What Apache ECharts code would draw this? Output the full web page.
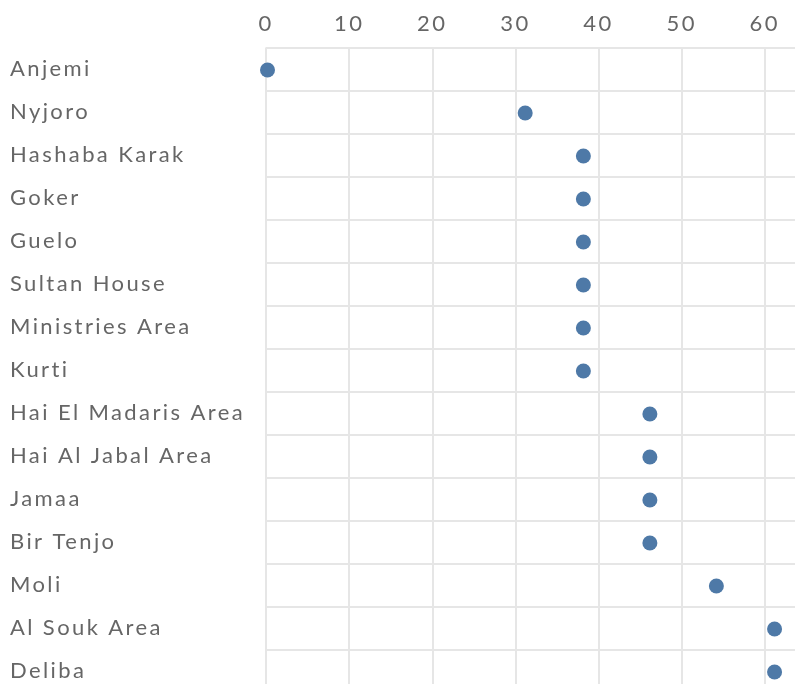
<!DOCTYPE html>
<html>
<head>
<meta charset="utf-8">
<script src="https://cdn.jsdelivr.net/npm/echarts@6/dist/echarts.min.js"></script>
<style>
  html, body { margin: 0; padding: 0; background: #fff; }
  #main { width: 795px; height: 684px; }
</style>
</head>
<body>
<div id="main"></div>
<script>
const places = ['Anjemi', 'Nyjoro', 'Hashaba Karak', 'Goker', 'Guelo', 'Sultan House',
  'Ministries Area', 'Kurti', 'Hai El Madaris Area', 'Hai Al Jabal Area', 'Jamaa',
  'Bir Tenjo', 'Moli', 'Al Souk Area', 'Deliba'];
const counts = [0, 31, 38, 38, 38, 38, 38, 38, 46, 46, 46, 46, 54, 61, 61];

// the labels in the original are tracked out a bit, echarts has no option for that
const _fillText = CanvasRenderingContext2D.prototype.fillText;
CanvasRenderingContext2D.prototype.fillText = function () {
  this.letterSpacing = '2.4px';
  return _fillText.apply(this, arguments);
};

const chart = echarts.init(document.getElementById('main'));

// grid line style shared by both axes
const gridLine = { show: true, lineStyle: { color: '#e6e6e6', width: 2 } };

chart.setOption({
  animation: false,
  grid: { left: 266, right: -3, top: 47.5, height: 645, outerBoundsMode: 'none' },
  xAxis: {
    type: 'value',
    position: 'top',
    min: 0,
    max: 64,
    interval: 10,
    axisLine: { show: false },
    axisTick: { show: false },
    splitLine: gridLine,
    axisLabel: {
      showMaxLabel: false,
      color: '#666',
      fontFamily: 'Lato',
      fontSize: 22,
      margin: 13
    }
  },
  yAxis: {
    type: 'category',
    data: places,
    inverse: true,
    axisLine: { show: false },
    axisTick: { show: false },
    splitLine: gridLine,
    axisLabel: {
      align: 'left',
      margin: 256,
      padding: [4, 0, 0, 0],
      color: '#666',
      fontFamily: 'Lato',
      fontSize: 22
    }
  },
  series: [{
    type: 'scatter',
    data: counts,
    symbolSize: 15,
    symbolOffset: [1.5, 1],
    itemStyle: { color: '#4e79a7', opacity: 1 }
  }]
});
</script>
</body>
</html>
